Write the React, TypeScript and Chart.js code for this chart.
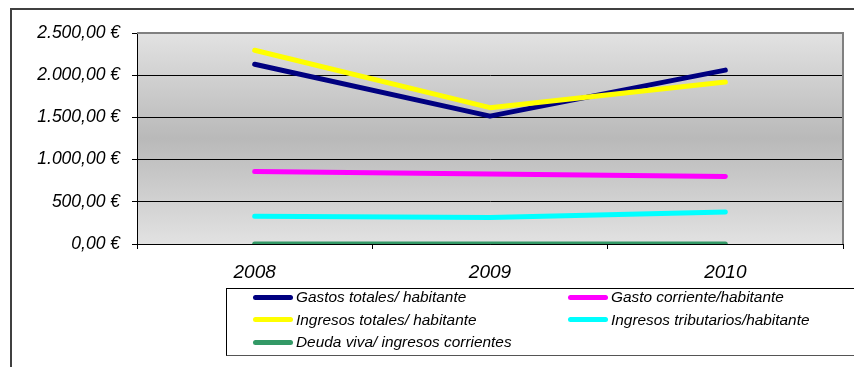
import React, { useEffect, useRef } from 'react';
import { Chart, registerables } from 'chart.js';

Chart.register(...registerables);

const categories = ['2008', '2009', '2010'];
const gastosTotales = [2130, 1515, 2060];
const gastoCorriente = [860, 830, 800];
const ingresosTotales = [2295, 1615, 1920];
const ingresosTributarios = [330, 315, 380];
const deudaViva = [0.6, 0.6, 0.6];

const yTickLabels = ['0,00 €', '500,00 €', '1.000,00 €', '1.500,00 €', '2.000,00 €', '2.500,00 €'];

const seriesNames = [
  'Gastos totales/ habitante',
  'Gasto corriente/habitante',
  'Ingresos totales/ habitante',
  'Ingresos tributarios/habitante',
  'Deuda viva/ ingresos corrientes',
];
const seriesData = [gastosTotales, gastoCorriente, ingresosTotales, ingresosTributarios, deudaViva];
const seriesColors = ['#000080', '#FF00FF', '#FFFF00', '#00FFFF', '#339966'];

const FONT = '"Liberation Sans", Arial, sans-serif';

const bgPlugin = {
  id: 'bgPlugin',
  beforeDraw(chart: any) {
    const { ctx, chartArea: a } = chart;
    const g = ctx.createLinearGradient(0, a.top, 0, a.bottom);
    g.addColorStop(0, '#e2e2e2');
    g.addColorStop(0.5, '#b9b9b9');
    g.addColorStop(1, '#e2e2e2');
    ctx.save();
    ctx.fillStyle = g;
    ctx.fillRect(a.left, a.top, a.right - a.left, a.bottom - a.top);
    ctx.restore();
  },
  afterDraw(chart: any) {
    const { ctx, chartArea: a } = chart;
    ctx.save();
    ctx.strokeStyle = '#808080';
    ctx.lineWidth = 2;
    ctx.beginPath();
    ctx.moveTo(a.left, a.top);
    ctx.lineTo(a.right, a.top);
    ctx.lineTo(a.right, a.bottom);
    ctx.stroke();
    ctx.restore();
  },
};

export default function App() {
  const ref = useRef<HTMLCanvasElement | null>(null);

  useEffect(() => {
    if (!ref.current) return;
    const chart = new Chart(ref.current, {
      type: 'line',
      data: {
        labels: categories,
        datasets: seriesNames.map((name, i) => ({
          label: name,
          data: seriesData[i],
          borderColor: seriesColors[i],
          backgroundColor: seriesColors[i],
          borderWidth: 5,
          borderCapStyle: 'round' as const,
          borderJoinStyle: 'round' as const,
          pointRadius: 0,
          tension: 0,
          order: -i,
        })),
      },
      options: {
        animation: false,
        responsive: false,
        maintainAspectRatio: false,
        layout: { padding: { top: 33, right: 11, left: 0, bottom: 0 } },
        plugins: { legend: { display: false }, tooltip: { enabled: false } },
        scales: {
          x: {
            offset: true,
            grid: {
              offset: true,
              drawOnChartArea: false,
              drawTicks: true,
              tickLength: 5,
              color: '#000',
            },
            border: { color: '#000', width: 1 },
            ticks: {
              color: '#000',
              padding: 12,
              font: { family: FONT, size: 19, style: 'italic' },
              maxRotation: 0,
            },
            afterFit(scale: any) {
              scale.height = 123;
            },
          },
          y: {
            min: 0,
            max: 2500,
            grid: { color: '#000', lineWidth: 1, tickLength: 5 },
            border: { color: '#000', width: 1 },
            ticks: {
              stepSize: 500,
              color: '#000',
              padding: 12,
              font: { family: FONT, size: 17.5, style: 'italic' },
              callback: (_v: any, idx: number) => yTickLabels[idx],
            },
            afterFit(scale: any) {
              scale.width = 137;
            },
          },
        },
      },
      plugins: [bgPlugin],
    });
    return () => chart.destroy();
  }, []);

  return (
    <div style={{ position: 'fixed', left: 0, top: 0, width: 854, height: 367, overflow: 'hidden', background: '#fff' }}>
      <div
        style={{
          position: 'absolute',
          left: 10,
          top: 8,
          width: 2000,
          height: 1000,
          borderLeft: '2px solid #404040',
          borderTop: '2px solid #404040',
        }}
      />
      <canvas ref={ref} width={854} height={367} style={{ position: 'absolute', left: 0, top: 0, width: 854, height: 367 }} />
      <div
        style={{
          position: 'absolute',
          left: 226,
          top: 288,
          width: 700,
          height: 66,
          borderTop: '1px solid #000',
          borderLeft: '1px solid #000',
          borderBottom: '1px solid #555',
          background: '#fff',
        }}
      />
      {seriesNames.map((name, i) => {
        const col = i % 2;
        const row = Math.floor(i / 2);
        const swX = col === 0 ? 253 : 568;
        const txX = col === 0 ? 296 : 611;
        const cy = 297 + row * 22.5;
        return (
          <React.Fragment key={name}>
            <div
              style={{
                position: 'absolute',
                left: swX,
                top: cy - 2.5,
                width: 40,
                height: 5,
                borderRadius: 3,
                background: seriesColors[i],
              }}
            />
            <div
              style={{
                position: 'absolute',
                left: txX,
                top: cy - 10,
                height: 20,
                lineHeight: '20px',
                fontFamily: FONT,
                fontStyle: 'italic',
                fontSize: 15.4,
                color: '#000',
                whiteSpace: 'nowrap',
              }}
            >
              {name}
            </div>
          </React.Fragment>
        );
      })}
    </div>
  );
}
